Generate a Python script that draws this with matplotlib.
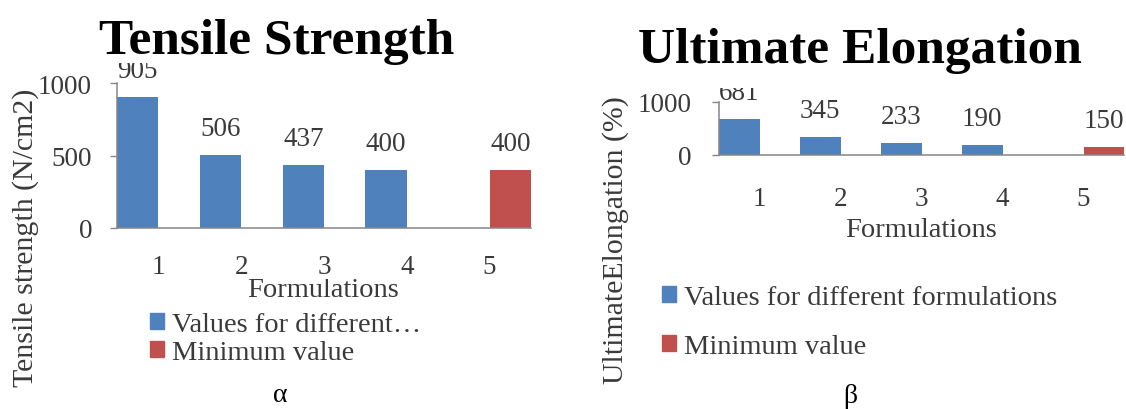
import matplotlib
matplotlib.use('Agg')
import matplotlib.pyplot as plt
from matplotlib.patches import Patch, Rectangle

plt.rcParams['font.family'] = ['Liberation Serif', 'DejaVu Serif']

formulations = ['1', '2', '3', '4', '5']
tensile_values = [905, 506, 437, 400]      # formulations 1-4
tensile_minimum = [400]                    # formulation 5
elongation_values = [681, 345, 233, 190]
elongation_minimum = [150]
legend_labels = ['Values for different formulations', 'Minimum value']

BLUE = '#4F81BD'
RED = '#C0504D'
AXIS = '#868686'
TEXT = '#3A3A3A'

W, H = 1126, 410
fig = plt.figure(figsize=(W / 100, H / 100), dpi=100)


def fx(x):
    return x / W


def fy(y):
    return 1 - y / H


def clip_above(y):
    # keep only what lies below pixel row y
    return Rectangle((0, 0), 1, fy(y), transform=fig.transFigure)


def panel(left, right, zero, top, values, minimum, ymax, yticks, clip_y, xpad, ypad):
    ax = fig.add_axes([fx(left), fy(zero), (right - left) / W, (zero - top) / H])
    xs = [i + 1 - 0.25 for i in range(len(values))]
    xm = [len(formulations) + 0.25]
    ax.bar(xs, values, width=0.5, color=BLUE)
    ax.bar(xm, minimum, width=0.5, color=RED)
    # value labels sit a fixed distance above each bar; the tallest get cut by the plot frame
    for x, v in zip(xs + xm, values + minimum):
        t = ax.annotate(str(v), (x, v), xytext=(0, 20), textcoords='offset pixels',
                        ha='center', va='baseline', fontsize=19.5, color=TEXT)
        t.set_clip_path(clip_above(clip_y))
    ax.set_xlim(0.5, 5.5)
    ax.set_ylim(0, ymax)
    ax.set_xticks(range(1, 6), formulations)
    ax.set_yticks(yticks)
    for s in ['top', 'right']:
        ax.spines[s].set_visible(False)
    for s in ['left', 'bottom']:
        ax.spines[s].set_color(AXIS)
        ax.spines[s].set_linewidth(1.1)
    ax.tick_params(axis='x', length=0, pad=xpad, labelsize=19.5, labelcolor=TEXT)
    ax.tick_params(axis='y', length=5, width=1, color=AXIS, pad=ypad,
                   labelsize=19.5, labelcolor=TEXT)
    return ax


panel(117, 531, 229, 84, tensile_values, tensile_minimum, 1000, [0, 500, 1000],
      clip_y=64, xpad=19, ypad=13)
panel(719, 1124, 156, 103, elongation_values, elongation_minimum, 1000, [0, 1000],
      clip_y=89, xpad=22, ypad=15)

# titles
fig.text(fx(277), fy(54), 'Tensile Strength', ha='center', va='baseline',
         fontsize=37, fontweight='bold', color='black')
fig.text(fx(860), fy(63), 'Ultimate Elongation', ha='center', va='baseline',
         fontsize=37, fontweight='bold', color='black')

# axis titles
xl = fig.text(fx(323), fy(297), 'Formulations', ha='center', va='baseline',
              fontsize=20.5, color=TEXT)
xl.set_clip_path(clip_above(280))
fig.text(fx(921), fy(237), 'Formulations', ha='center', va='baseline', fontsize=20.5, color=TEXT)
fig.text(fx(26), fy(238), 'Tensile strength (N/cm2)', rotation=90, ha='center', va='center',
         fontsize=21.5, color=TEXT)
fig.text(fx(616), fy(240), 'UltimateElongation (%)', rotation=90, ha='center', va='center',
         fontsize=21.5, color=TEXT)

# legends
handles = [Patch(color=BLUE), Patch(color=RED)]
fig.legend(handles, ['Values for different\u2026', legend_labels[1]], loc='upper left',
           bbox_to_anchor=(fx(150), fy(313)), frameon=False, fontsize=20.5,
           handlelength=0.48, handleheight=0.48, handletextpad=0.3, labelspacing=0.12,
           borderpad=0, borderaxespad=0, labelcolor=TEXT)
fig.legend(handles, legend_labels, loc='upper left',
           bbox_to_anchor=(fx(662), fy(286)), frameon=False, fontsize=20.5,
           handlelength=0.48, handleheight=0.48, handletextpad=0.3, labelspacing=0.85,
           borderpad=0, borderaxespad=0, labelcolor=TEXT)

# panel captions
fig.text(fx(280), fy(396), '\u03b1', ha='center', va='center', fontsize=20, color='black')
fig.text(fx(850), fy(397), '\u03b2', ha='center', va='center', fontsize=20, color='black')

fig.savefig('out.png', dpi=100)
